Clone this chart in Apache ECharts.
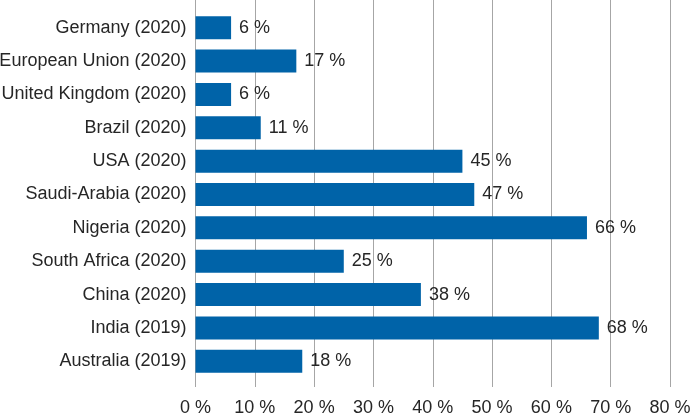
<!DOCTYPE html>
<html><head><meta charset="utf-8">
<script src="https://cdn.jsdelivr.net/npm/echarts@6/dist/echarts.min.js"></script>
<style>html,body{margin:0;padding:0;background:#fff}#c{width:690px;height:417px}</style>
</head><body><div id="c"></div>
<script>
const categories = ["Germany (2020)","European Union (2020)","United Kingdom (2020)","Brazil (2020)","USA (2020)","Saudi-Arabia (2020)","Nigeria (2020)","South Africa (2020)","China (2020)","India (2019)","Australia (2019)"];
const values = [6,17,6,11,45,47,66,25,38,68,18];
const FONT = '"Liberation Sans",Arial,sans-serif';
const chart = echarts.init(document.getElementById('c'));
chart.setOption({
  animation:false,
  grid:[
    {left:195.5,right:20,top:0,bottom:30,containLabel:false,outerBoundsMode:'none'},
    {left:195.5,right:20,top:11,bottom:39,containLabel:false,outerBoundsMode:'none'}
  ],
  xAxis:[
    {gridIndex:0,type:'value',min:0,max:80,interval:10,
     axisLine:{show:false},axisTick:{show:false},
     splitLine:{lineStyle:{color:'#a6a6a6',width:1}},
     axisLabel:{formatter:'{value} %',fontSize:18,color:'#262626',fontFamily:FONT,margin:12}},
    {gridIndex:1,type:'value',min:0,max:80,interval:10,show:false,splitLine:{show:false}}
  ],
  yAxis:[
    {gridIndex:0,type:'category',data:[],show:false},
    {gridIndex:1,type:'category',data:categories,inverse:true,
     axisLine:{show:false},axisTick:{show:false},
     axisLabel:{fontSize:18,color:'#262626',fontFamily:FONT,margin:9}}
  ],
  series:[{
    type:'bar',xAxisIndex:1,yAxisIndex:1,data:values,
    barCategoryGap:'31%',
    itemStyle:{color:'#0063a8'},
    label:{show:true,position:'right',distance:8,formatter:'{c} %',fontSize:18,color:'#262626',fontFamily:FONT}
  }]
});
</script></body></html>
